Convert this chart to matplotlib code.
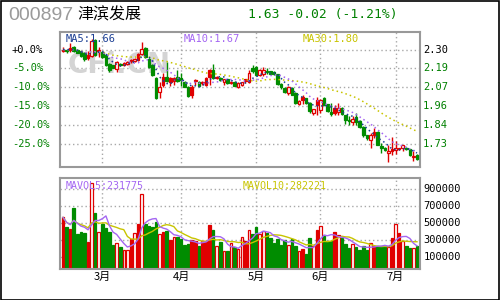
import numpy as np
import pandas as pd
import matplotlib
matplotlib.use("Agg")
import matplotlib.pyplot as plt
from matplotlib.patches import Rectangle
from matplotlib.transforms import blended_transform_factory

# ---------------- data ----------------
opens = [2.290, 2.298, 2.295, 2.315, 2.300, 2.289, 2.280, 2.249, 2.261, 2.360,
         2.289, 2.285, 2.265, 2.214, 2.204, 2.184, 2.210, 2.204, 2.212, 2.236,
         2.229, 2.238, 2.275, 2.309, 2.245, 2.204, 2.124, 2.043, 2.083, 2.134,
         2.104, 2.108, 2.130, 2.124, 2.104, 2.073, 2.023, 2.108, 2.104, 2.093,
         2.083, 2.134, 2.174, 2.124, 2.128, 2.104, 2.118, 2.097, 2.104, 2.073,
         2.083, 2.118, 2.103, 2.188, 2.194, 2.178, 2.152, 2.162, 2.166, 2.164,
         2.148, 2.090, 2.063, 2.033, 2.063, 2.037, 1.966, 2.013, 2.003, 1.976,
         1.912, 1.990, 1.930, 2.007, 1.966, 1.916, 1.946, 1.916, 1.946, 1.898,
         1.869, 1.857, 1.886, 1.865, 1.825, 1.777, 1.750, 1.797, 1.797, 1.714,
         1.700, 1.670, 1.690, 1.684, 1.696, 1.696, 1.700, 1.690, 1.645, 1.656]
highs = [2.315, 2.300, 2.339, 2.320, 2.305, 2.292, 2.285, 2.289, 2.366, 2.366,
         2.315, 2.290, 2.268, 2.218, 2.208, 2.229, 2.215, 2.225, 2.228, 2.240,
         2.250, 2.280, 2.345, 2.315, 2.250, 2.210, 2.130, 2.104, 2.154, 2.224,
         2.134, 2.134, 2.174, 2.154, 2.110, 2.080, 2.083, 2.120, 2.110, 2.110,
         2.130, 2.184, 2.214, 2.140, 2.134, 2.120, 2.120, 2.108, 2.108, 2.104,
         2.104, 2.120, 2.174, 2.204, 2.200, 2.180, 2.194, 2.190, 2.170, 2.168,
         2.152, 2.095, 2.070, 2.080, 2.070, 2.040, 1.990, 2.020, 2.005, 1.980,
         1.940, 2.013, 2.000, 2.010, 1.970, 1.972, 1.960, 1.976, 1.950, 1.902,
         1.892, 1.892, 1.912, 1.870, 1.831, 1.780, 1.791, 1.821, 1.800, 1.730,
         1.705, 1.720, 1.765, 1.740, 1.700, 1.720, 1.706, 1.695, 1.680, 1.660]
lows = [2.285, 2.280, 2.285, 2.285, 2.278, 2.255, 2.230, 2.235, 2.255, 2.260,
        2.255, 2.250, 2.200, 2.160, 2.186, 2.160, 2.200, 2.198, 2.208, 2.215,
        2.225, 2.232, 2.265, 2.250, 2.190, 2.140, 1.995, 2.003, 2.070, 2.104,
        2.080, 2.083, 2.104, 2.080, 2.070, 2.010, 2.007, 2.083, 2.075, 2.085,
        2.080, 2.083, 2.118, 2.120, 2.110, 2.083, 2.088, 2.090, 2.075, 2.063,
        2.078, 2.095, 2.093, 2.154, 2.140, 2.140, 2.140, 2.150, 2.148, 2.145,
        2.085, 2.060, 2.035, 2.025, 2.020, 1.965, 1.960, 1.970, 1.968, 1.915,
        1.900, 1.902, 1.915, 1.960, 1.920, 1.892, 1.900, 1.902, 1.900, 1.845,
        1.841, 1.841, 1.837, 1.820, 1.765, 1.750, 1.700, 1.757, 1.715, 1.670,
        1.680, 1.615, 1.656, 1.660, 1.685, 1.680, 1.686, 1.652, 1.619, 1.625]
closes = [2.300, 2.294, 2.311, 2.289, 2.281, 2.261, 2.240, 2.265, 2.355, 2.265,
          2.295, 2.255, 2.204, 2.174, 2.190, 2.224, 2.205, 2.220, 2.224, 2.228,
          2.245, 2.275, 2.301, 2.255, 2.194, 2.144, 2.003, 2.073, 2.134, 2.110,
          2.124, 2.124, 2.110, 2.114, 2.073, 2.019, 2.073, 2.114, 2.079, 2.104,
          2.124, 2.174, 2.124, 2.134, 2.114, 2.118, 2.093, 2.104, 2.079, 2.093,
          2.099, 2.105, 2.154, 2.168, 2.144, 2.144, 2.178, 2.166, 2.150, 2.148,
          2.089, 2.070, 2.043, 2.073, 2.023, 1.972, 1.986, 1.990, 1.972, 1.922,
          1.938, 1.960, 1.990, 1.962, 1.926, 1.906, 1.912, 1.946, 1.906, 1.871,
          1.861, 1.878, 1.857, 1.825, 1.777, 1.757, 1.777, 1.780, 1.720, 1.700,
          1.684, 1.680, 1.682, 1.700, 1.690, 1.716, 1.690, 1.656, 1.650, 1.630]
volumes = [566e3, 449e3, 429e3, 676e3, 371e3, 394e3, 382e3, 277e3, 975e3, 618e3,
           394e3, 488e3, 441e3, 394e3, 245e3, 261e3, 218e3, 182e3, 182e3, 312e3,
           378e3, 488e3, 841e3, 488e3, 469e3, 453e3, 512e3, 371e3, 394e3, 410e3,
           304e3, 331e3, 331e3, 312e3, 237e3, 253e3, 300e3, 284e3, 225e3, 284e3,
           292e3, 480e3, 418e3, 229e3, 273e3, 171e3, 171e3, 261e3, 214e3, 194e3,
           331e3, 292e3, 418e3, 371e3, 453e3, 371e3, 402e3, 382e3, 324e3, 265e3,
           312e3, 245e3, 304e3, 245e3, 312e3, 233e3, 171e3, 198e3, 135e3, 324e3,
           225e3, 418e3, 461e3, 355e3, 292e3, 292e3, 394e3, 355e3, 324e3, 253e3,
           206e3, 253e3, 218e3, 186e3, 225e3, 186e3, 261e3, 233e3, 233e3, 225e3,
           233e3, 214e3, 324e3, 488e3, 382e3, 292e3, 225e3, 206e3, 206e3, 225e3]
# h = red hollow (up), r = red filled, g = green filled
day_kind = list(
    "rgrggggrhg" "hgggghghhr" "hrhgggghrg" "rhggggrrgr"
    "rrghghghgh" "hrhgghhggg" "ggghgghrgg" "hrhgggrhgg"
    "ghgggghrgg" "ghrhrhgghg")

month_start_idx = [11, 33, 54, 72, 93]
month_labels = ["3月", "4月", "5月", "6月", "7月"]

base_price = 2.30
pct_levels = [0.0, -5.0, -10.0, -15.0, -20.0, -25.0]
price_labels = ["2.30", "2.19", "2.07", "1.96", "1.84", "1.73"]
pct_labels = ["+0.0%", "-5.0%", "-10.0%", "-15.0%", "-20.0%", "-25.0%"]
vol_levels = [900000, 700000, 500000, 300000, 100000]
vol_labels = ["900000", "700000", "500000", "300000", "100000"]

header_code = "000897"
header_name = "津滨发展"
header_quote = "1.63 -0.02 (-1.21%)"
ma_texts = ["MA5:1.66", "MA10:1.67", "MA30:1.80"]
vol_ma_texts = ["MAVOL5:231775", "MAVOL10:282221"]

# ---------------- style ----------------
RED = "#e00000"
GREEN = "#008c00"
TXT_GREEN = "#008000"
GRID = "#a8a8a8"
FRAME = "#999999"
MA5_C = "#1c3f94"
MA10_C = "#a466f2"
MA30_C = "#c8c400"
MONO = "DejaVu Sans Mono"
CJK = ["Noto Sans CJK SC", "DejaVu Sans"]

n = len(closes)
x = np.arange(n)
o = np.array(opens); c = np.array(closes); h = np.array(highs); l = np.array(lows)
v = np.array(volumes)
cs = pd.Series(c)
ma5 = cs.rolling(5, min_periods=1).mean()
ma10 = cs.rolling(10, min_periods=1).mean()
ma30 = cs.rolling(30, min_periods=1).mean()
vs = pd.Series(v)
vma5 = vs.rolling(5, min_periods=1).mean()
vma10 = vs.rolling(10, min_periods=1).mean()

fig = plt.figure(figsize=(5, 3), dpi=100)
fig.patch.set_facecolor("white")
ax = fig.add_axes([0.12, 1 - 167 / 300, 0.72, 135.5 / 300])
axv = fig.add_axes([0.12, 1 - 269 / 300, 0.72, 91 / 300])

xlim = (-0.84, n - 1 + 0.84)
for a in (ax, axv):
    a.set_xlim(*xlim)
    a.set_xticks([])
    a.set_yticks([])
    for s in a.spines.values():
        s.set_color(FRAME)
        s.set_linewidth(1.5)
    for m in month_start_idx:
        a.axvline(m, color=GRID, lw=1, ls=(0, (1, 2)), zorder=0)

price_levels = [base_price * (1 + p / 100) for p in pct_levels]
ax.set_ylim(1.583, 2.410)
for pl in price_levels:
    ax.axhline(pl, color=GRID, lw=1, ls=(0, (1, 2)), zorder=0)

# watermark
ax.text(0.022, 0.75, "CFi.CN", transform=ax.transAxes, fontsize=20, fontweight="bold",
        color="#d4d4d4", ha="left", va="center", family="DejaVu Sans", zorder=0.5)

def kind_style(k):
    if k == "h":
        return "white", RED
    if k == "r":
        return RED, RED
    return GREEN, GREEN

# candles
wick_colors = [GREEN if k == "g" else RED for k in day_kind]
ax.vlines(x, l, h, colors=wick_colors, lw=1, zorder=2)
body_w = 0.72
for i in range(n):
    fc, ec = kind_style(day_kind[i])
    lo_b = min(o[i], c[i]); hi_b = max(o[i], c[i])
    hgt = max(hi_b - lo_b, 0.002)
    ax.bar(x[i], hgt, bottom=lo_b, width=body_w, facecolor=fc, edgecolor=ec,
           linewidth=0.9, zorder=3)

dot = (0, (1, 2))
ax.plot(x, ma30, color=MA30_C, lw=1.1, ls=dot, zorder=4)
ax.plot(x, ma10, color=MA10_C, lw=1.1, ls=dot, zorder=4)
ax.plot(x, ma5, color=MA5_C, lw=1.1, ls=dot, zorder=4)

for txt, xx, col in zip(ma_texts, [0.016, 0.344, 0.674], [MA5_C, MA10_C, MA30_C]):
    ax.text(xx, 0.948, txt, transform=ax.transAxes, color=col, fontsize=7.5,
            family=MONO, ha="left", va="center", zorder=6)

# axis labels price panel
tr = ax.get_yaxis_transform()
trl = blended_transform_factory(fig.transFigure, ax.transData)
for i, (pl, lab, plab) in enumerate(zip(price_levels, price_labels, pct_labels)):
    col = "black" if i == 0 else TXT_GREEN
    ax.text(1.008, pl, lab, transform=tr, color=col, fontsize=7.5, family=MONO,
            ha="left", va="center")
    fig.text(12 / 500, pl, plab, color=col, fontsize=7.5, family=MONO, ha="left",
             va="center", transform=trl)

# volume panel
vol_floor = -41000
axv.set_ylim(vol_floor, 1029000)
for vl in vol_levels:
    axv.axhline(vl, color=GRID, lw=1, ls=(0, (1, 2)), zorder=0)
for i in range(n):
    fc, ec = kind_style(day_kind[i])
    axv.bar(x[i], v[i] - vol_floor, bottom=vol_floor, width=body_w, facecolor=fc,
            edgecolor=ec, linewidth=0.9, zorder=2)
axv.plot(x, vma10, color=MA30_C, lw=1.0, zorder=4)
axv.plot(x, vma5, color=MA10_C, lw=1.0, zorder=4)
for txt, xx, col in zip(vol_ma_texts, [0.016, 0.5075], [MA10_C, MA30_C]):
    axv.text(xx, 0.912, txt, transform=axv.transAxes, color=col, fontsize=7.2,
             family=MONO, ha="left", va="center", zorder=6)
trv = axv.get_yaxis_transform()
for vl, lab in zip(vol_levels, vol_labels):
    axv.text(1.009, vl, lab, transform=trv, color="black", fontsize=7.5, family=MONO,
             ha="left", va="center")

# month labels
trx = axv.get_xaxis_transform()
for m, lab in zip(month_start_idx, month_labels):
    axv.text(m, -0.09, lab, transform=trx, ha="center", va="center", fontsize=8,
             family=CJK, color="black")

# header
fig.text(8 / 500, 1 - 16 / 300, header_code, color="#9a9a9a", fontsize=14,
         family="Liberation Sans", ha="left", va="center")
fig.text(77 / 500, 1 - 14.5 / 300, header_name, color="black", fontsize=11.5,
         family=CJK, ha="left", va="center")
fig.text(248 / 500, 1 - 14.5 / 300, header_quote, color=TXT_GREEN, fontsize=9.4,
         family=MONO, ha="left", va="center")

# outer frame
fig.add_artist(Rectangle((0.5 / 500, 0.5 / 300), 498.5 / 500, 299 / 300, transform=fig.transFigure,
                         fill=False, edgecolor="black", lw=1.2))

fig.savefig("out.png", dpi=100)
